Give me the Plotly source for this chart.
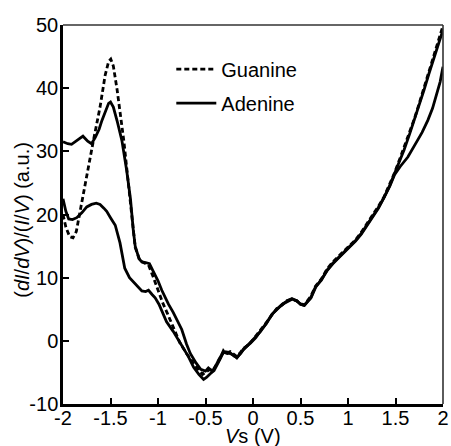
import plotly.graph_objects as go

# ---- data (Vs in V, (dI/dV)/(I/V) in a.u.) ----
v_guanine = [-2.00, -1.97, -1.93, -1.895, -1.86, -1.82, -1.75, -1.68, -1.61, -1.557, -1.52, -1.497, -1.47,
             -1.43, -1.36, -1.30, -1.27, -1.24, -1.19, -1.14, -1.10, -1.05, -1.00, -0.95, -0.90, -0.84,
             -0.77, -0.70, -0.64, -0.58, -0.53, -0.50, -0.46, -0.42, -0.38, -0.34, -0.31, -0.27, -0.24,
             -0.20, -0.17, -0.13, -0.10, -0.03, 0.03, 0.08, 0.14, 0.20, 0.25, 0.31, 0.36, 0.41, 0.46,
             0.50, 0.54, 0.61, 0.66, 0.72, 0.78, 0.84, 0.90, 0.96, 1.02, 1.08, 1.14, 1.20, 1.26, 1.32,
             1.38, 1.44, 1.49, 1.55, 1.60, 1.65, 1.70, 1.75, 1.80, 1.85, 1.91, 1.96, 2.00]
guanine = [20.0, 18.0, 16.5, 16.3, 17.3, 20.5, 26.5, 31.7, 37.0, 42.0, 44.2, 44.6, 43.5,
           39.7, 31.7, 23.0, 18.0, 14.8, 12.7, 12.3, 12.0, 10.1, 8.0, 6.0, 4.3, 2.2,
           -0.3, -2.0, -3.3, -4.5, -5.3, -5.0, -4.6, -4.6, -3.6, -2.6, -1.5, -1.9, -1.7,
           -2.2, -2.5, -1.8, -1.2, -0.4, 0.7, 1.7, 2.9, 4.1, 5.1, 5.7, 6.4, 6.6, 6.3,
           5.9, 5.7, 7.1, 8.7, 9.8, 11.4, 12.5, 13.4, 14.3, 15.1, 16.0, 17.2, 18.5, 19.8, 21.3,
           22.8, 24.8, 26.6, 29.0, 31.0, 33.1, 35.2, 37.6, 40.0, 42.6, 45.3, 48.0, 49.9]

v_adenine1 = [-2.00, -1.95, -1.91, -1.85, -1.79, -1.74, -1.70, -1.66, -1.62, -1.59, -1.55, -1.52, -1.50,
              -1.47, -1.43, -1.38, -1.33, -1.29, -1.26, -1.24, -1.20, -1.17, -1.13, -1.09, -1.05, -1.00,
              -0.96, -0.92, -0.89, -0.84, -0.80, -0.75, -0.70, -0.66, -0.60, -0.55, -0.50, -0.47, -0.43,
              -0.40, -0.36, -0.31, -0.27, -0.24, -0.20, -0.17, -0.13, -0.10, -0.03, 0.03, 0.08, 0.14,
              0.20, 0.25, 0.31, 0.36, 0.41, 0.46, 0.50, 0.54, 0.61, 0.66, 0.72, 0.78, 0.84, 0.90, 0.96,
              1.02, 1.08, 1.14, 1.20, 1.26, 1.32, 1.38, 1.44, 1.49, 1.55, 1.59, 1.65, 1.70, 1.75, 1.80,
              1.85, 1.91, 1.96, 2.00]
adenine1 = [31.5, 31.2, 31.1, 31.8, 32.4, 31.6, 31.2, 32.2, 33.5, 34.9, 36.5, 37.6, 37.8,
            37.0, 34.8, 31.7, 27.0, 22.5, 17.5, 15.0, 13.0, 12.5, 12.4, 12.2, 11.0, 9.5,
            8.0, 6.6, 5.8, 4.5, 3.4, 1.8, -0.5, -2.0, -3.5, -4.5, -4.8, -4.3, -4.8,
            -4.2, -3.0, -1.7, -1.8, -2.0, -2.3, -2.7, -1.9, -1.4, -0.3, 0.6, 1.5, 2.8,
            4.2, 5.0, 5.8, 6.3, 6.7, 6.3, 5.8, 5.6, 6.9, 8.6, 9.6, 11.2, 12.3, 13.2, 14.1,
            14.9, 15.9, 17.0, 18.3, 19.6, 21.1, 22.7, 24.6, 26.5, 28.6, 30.2, 32.8, 35.0, 37.3, 39.7,
            42.2, 45.0, 47.6, 49.2]

v_adenine2 = [-2.00, -1.97, -1.94, -1.90, -1.855, -1.80, -1.75, -1.70, -1.65, -1.61, -1.57, -1.54, -1.50,
              -1.45, -1.40, -1.35, -1.30, -1.26, -1.21, -1.17, -1.13, -1.10, -1.06, -1.03, -0.99, -0.96,
              -0.91, -0.84, -0.80, -0.73, -0.68, -0.625, -0.57, -0.52, -0.49, -0.45, -0.41, -0.36, -0.31,
              -0.27, -0.24, -0.20, -0.17, -0.13, -0.10, -0.03, 0.03, 0.08, 0.14, 0.20, 0.25, 0.31, 0.36,
              0.41, 0.46, 0.50, 0.54, 0.61, 0.66, 0.72, 0.78, 0.84, 0.90, 0.96, 1.02, 1.08, 1.14, 1.20,
              1.26, 1.32, 1.38, 1.44, 1.49, 1.55, 1.63, 1.68, 1.73, 1.78, 1.84, 1.89, 1.94, 1.97, 2.00]
adenine2 = [22.5, 20.5, 19.3, 19.2, 19.5, 20.3, 21.2, 21.6, 21.8, 21.6, 21.0, 20.5, 19.5,
            18.3, 15.5, 11.5, 10.0, 9.3, 8.5, 7.9, 7.8, 8.0, 7.3, 6.8, 5.8, 4.8,
            3.0, 1.5, 0.5, -1.1, -2.5, -4.2, -5.3, -6.1, -5.8, -5.2, -4.7, -3.3, -1.8,
            -2.0, -1.9, -2.4, -2.6, -2.0, -1.3, -0.4, 0.5, 1.6, 2.7, 4.2, 4.9, 5.8, 6.2,
            6.6, 6.4, 5.8, 5.6, 6.8, 8.5, 9.7, 11.1, 12.2, 13.1, 14.0, 14.8, 15.8, 16.9, 18.3,
            19.6, 21.0, 22.7, 24.5, 26.3, 27.6, 29.1, 30.3, 31.7, 33.0, 34.9, 36.8, 39.2, 41.0, 43.4]

x_ticks = [-2, -1.5, -1, -0.5, 0, 0.5, 1, 1.5, 2]
x_tick_text = ["-2", "-1.5", "-1", "-0.5", "0", "0.5", "1", "1.5", "2"]
y_ticks = [-10, 0, 10, 20, 30, 40, 50]
y_tick_text = ["-10", "0", "10", "20", "30", "40", "50"]

FONT = "Arial, Liberation Sans, sans-serif"
LW = 2.8

fig = go.Figure()
fig.add_trace(go.Scatter(x=v_guanine, y=guanine, mode="lines", name="Guanine",
                         line=dict(color="black", width=LW, dash="5px,3px"),
                         legendgroup="g"))
fig.add_trace(go.Scatter(x=v_adenine1, y=adenine1, mode="lines", name="Adenine",
                         line=dict(color="black", width=LW), legendgroup="a"))
fig.add_trace(go.Scatter(x=v_adenine2, y=adenine2, mode="lines", name="Adenine",
                         line=dict(color="black", width=LW), legendgroup="a",
                         showlegend=False))

fig.update_layout(
    width=451, height=446,
    margin=dict(l=63, r=8, t=25, b=42, autoexpand=False),
    paper_bgcolor="white", plot_bgcolor="white",
    font=dict(family=FONT, size=20, color="black"),
    showlegend=True,
    legend=dict(x=0.285, y=0.935, xanchor="left", yanchor="top",
                bgcolor="rgba(0,0,0,0)", borderwidth=0,
                font=dict(size=20), tracegroupgap=5, traceorder="grouped",
                itemwidth=40),
    xaxis=dict(range=[-2, 2], tickmode="array", tickvals=x_ticks, ticktext=x_tick_text,
               ticks="inside", ticklen=6, tickwidth=2, tickcolor="black",
               showline=True, linecolor="black", linewidth=2.5, mirror=False,
               showgrid=False, zeroline=False, automargin=False, ticklabelstandoff=-6),
    yaxis=dict(range=[-10, 50], tickmode="array", tickvals=y_ticks, ticktext=y_tick_text,
               ticks="inside", ticklen=6, tickwidth=2, tickcolor="black",
               showline=True, linecolor="black", linewidth=2.5, mirror=False,
               showgrid=False, zeroline=False, automargin=False, ticklabelstandoff=-2),
    annotations=[dict(text="(<i>dI</i>/<i>dV</i>)/(<i>I</i>/<i>V</i>) (a.u.)",
                      xref="paper", yref="paper", x=-0.108, y=0.486,
                      textangle=-90, showarrow=False, font=dict(size=20),
                      xanchor="center", yanchor="middle"),
                 dict(text="<i>V</i>s (V)", xref="paper", yref="paper",
                      x=0.5, y=-0.085, showarrow=False, font=dict(size=20),
                      xanchor="center", yanchor="middle")],
    shapes=[dict(type="line", xref="paper", yref="paper", x0=0, x1=1, y0=1, y1=1,
                 line=dict(color="#333333", width=1.6)),
            dict(type="line", xref="paper", yref="paper", x0=1, x1=1, y0=0, y1=1,
                 line=dict(color="#333333", width=1.6))],
)

fig.write_html("out.html", config={"displayModeBar": False},
               post_script="document.body.style.margin='0';document.body.style.padding='0';")
